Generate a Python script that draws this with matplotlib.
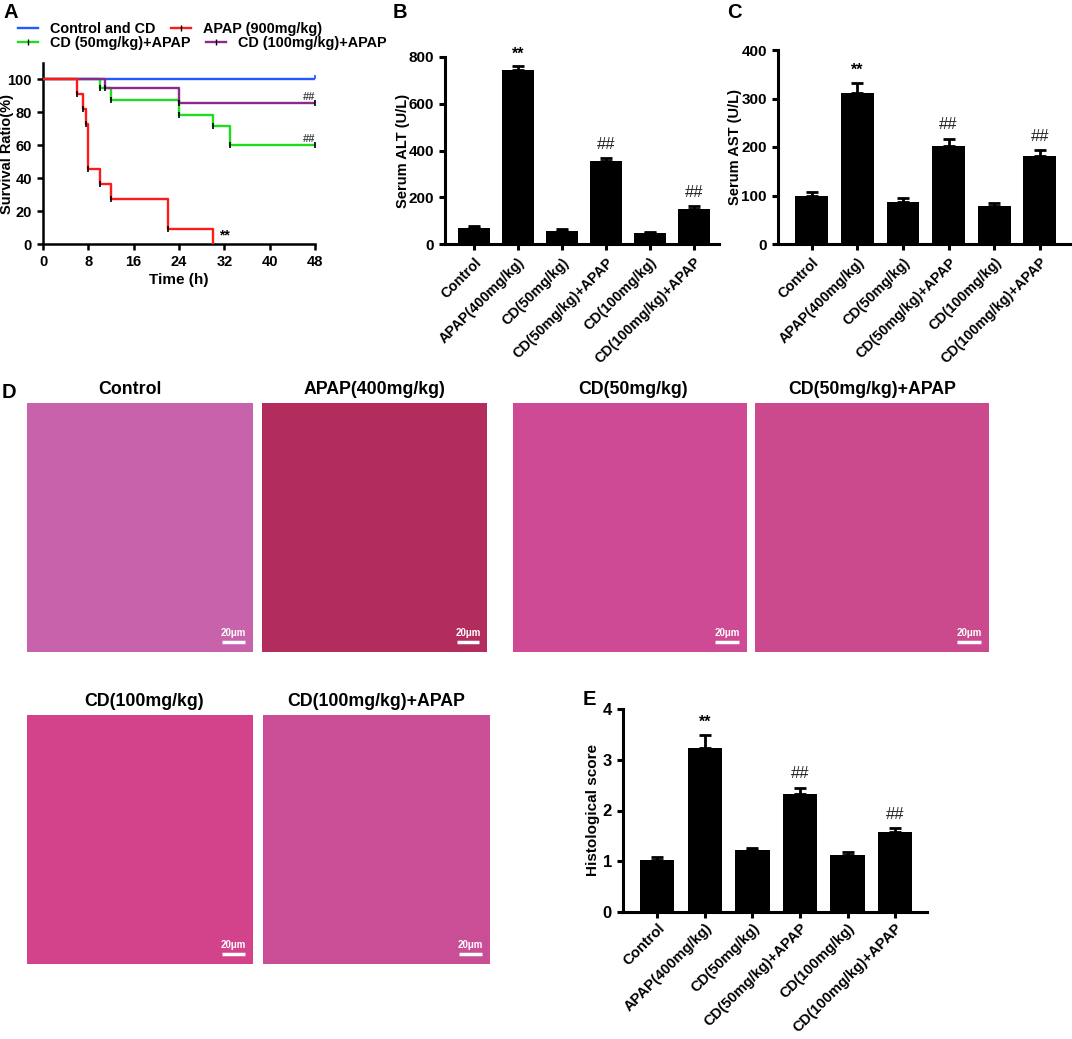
import matplotlib
matplotlib.use('Agg')
import matplotlib.pyplot as plt
from matplotlib.lines import Line2D

plt.rcParams['font.family'] = ['Liberation Sans', 'DejaVu Sans']
plt.rcParams['font.weight'] = 'bold'

W, H = 1072, 1039

# --- survival data (A) ---
t_ctrl = [0, 48]
s_ctrl = [100, 100]
t_apap = [0, 6, 7, 7.5, 8, 10, 12, 22, 30]
s_apap = [100, 90.9, 81.8, 72.7, 45.5, 36.4, 27.3, 9.1, 0]
t_cd50 = [0, 10, 12, 24, 30, 33, 48]
s_cd50 = [100, 94.7, 87.5, 78.5, 71.8, 60, 60]
t_cd100 = [0, 11, 24, 48]
s_cd100 = [100, 95, 85.5, 85.5]

# --- bar data (B, C, E) ---
groups = ['Control', 'APAP(400mg/kg)', 'CD(50mg/kg)', 'CD(50mg/kg)+APAP',
          'CD(100mg/kg)', 'CD(100mg/kg)+APAP']
alt_mean = [70, 743, 56, 354, 47, 150]
alt_err = [8, 17, 7, 13, 6, 12]
ast_mean = [98, 312, 86, 203, 78, 182]
ast_err = [9, 19, 8, 14, 7, 12]
hist_mean = [1.02, 3.24, 1.22, 2.33, 1.12, 1.57]
hist_err = [0.07, 0.24, 0.05, 0.11, 0.07, 0.08]
marks = ['', '**', '', '##', '', '##']

# --- histology panels (D) ---
he_titles = ['Control', 'APAP(400mg/kg)', 'CD(50mg/kg)', 'CD(50mg/kg)+APAP',
             'CD(100mg/kg)', 'CD(100mg/kg)+APAP']
he_colors = ['#c862aa', '#b22c5e', '#cf4a94', '#cb4a8e', '#d3438c', '#c94e95']


def rect(x0, y0, x1, y1):
    return [x0 / W, 1 - y1 / H, (x1 - x0) / W, (y1 - y0) / H]


def style_axes(ax, fs_y, fs_x, lw, xpad=3.5):
    for s in ['top', 'right']:
        ax.spines[s].set_visible(False)
    for s in ['left', 'bottom']:
        ax.spines[s].set_linewidth(lw)
    ax.tick_params(direction='out', length=4.5, width=lw)
    ax.tick_params(axis='y', labelsize=fs_y)
    ax.tick_params(axis='x', labelsize=fs_x, pad=xpad)
    for lab in ax.get_yticklabels() + ax.get_xticklabels():
        lab.set_fontweight('bold')


fig = plt.figure(figsize=(W / 100, H / 100), dpi=100)

# ---------------- A: survival ----------------
axA = fig.add_axes(rect(43, 63, 315, 244))
cols = {'ctrl': '#1f5bff', 'apap': '#ff1a1a', 'cd50': '#1fdc1f', 'cd100': '#8c2a8c'}
axA.step(t_ctrl, s_ctrl, where='post', color=cols['ctrl'], lw=1.7, zorder=2)
axA.step(t_cd50, s_cd50, where='post', color=cols['cd50'], lw=1.7, zorder=3)
axA.step(t_cd100, s_cd100, where='post', color=cols['cd100'], lw=1.7, zorder=4)
axA.step(t_apap, s_apap, where='post', color=cols['apap'], lw=1.7, zorder=5)
for t, s in [(t_apap, s_apap), (t_cd50, s_cd50), (t_cd100, s_cd100)]:
    tt = [a for a, b in zip(t[1:], s[1:]) if b > 0]
    ss = [b for b in s[1:] if b > 0]
    axA.plot(tt, ss, '|', color='k', ms=4, mew=1.2, zorder=6, clip_on=False)
axA.plot([48], [101.5], '|', color=cols['ctrl'], ms=3.5, mew=1.2, clip_on=False)
axA.set_xlim(0, 48)
axA.set_ylim(0, 110)
axA.set_xticks(range(0, 49, 8))
axA.set_yticks(range(0, 101, 20))
style_axes(axA, 10.5, 10.5, 1.8)
axA.set_xlabel('Time (h)', fontsize=11, fontweight='bold', labelpad=3)
axA.set_ylabel('Survival Ratio(%)', fontsize=10.5, fontweight='bold')
axA.yaxis.set_label_coords(-0.105, 0.5)
axA.text(48, s_cd100[-1] + 0.8, '##', ha='right', va='bottom', fontsize=8,
         fontweight='bold', color='#444444', clip_on=False)
axA.text(48, s_cd50[-1] + 0.8, '##', ha='right', va='bottom', fontsize=8,
         fontweight='bold', color='#444444', clip_on=False)
axA.text(31, 1, '**', ha='left', va='bottom', fontsize=10, fontweight='bold')

h_ctrl = Line2D([], [], color=cols['ctrl'], lw=1.7)
h_apap = Line2D([], [], color=cols['apap'], lw=1.7, marker='|', mec='k', ms=4)
h_cd50 = Line2D([], [], color=cols['cd50'], lw=1.7, marker='|', mec='k', ms=4)
h_cd100 = Line2D([], [], color=cols['cd100'], lw=1.7, marker='|', mec='k', ms=4)
leg_kw = dict(loc='center left', ncol=2, frameon=False, borderpad=0, borderaxespad=0,
              handlelength=1.4, handletextpad=0.8, columnspacing=1.1, numpoints=1,
              prop={'size': 10.4, 'weight': 'bold'})
fig.legend([h_ctrl, h_apap], ['Control and CD', 'APAP (900mg/kg)'],
           bbox_to_anchor=(18 / W, 1 - 29 / H), **leg_kw)
fig.legend([h_cd50, h_cd100], ['CD (50mg/kg)+APAP', 'CD (100mg/kg)+APAP'],
           bbox_to_anchor=(18 / W, 1 - 43 / H), **leg_kw)


# ---------------- bar panels ----------------
def bar_panel(r, mean, err, ylim, yticks, ylabel, xlim, fs_tick, fs_cat, fs_lab, lab_x,
              xpad=3.5):
    ax = fig.add_axes(r)
    x = list(range(len(groups)))
    ax.bar(x, mean, width=0.72, color='black', zorder=2)
    ax.errorbar(x, mean, yerr=[[0] * len(err), err], fmt='none', ecolor='black',
                elinewidth=2, capsize=4.5, capthick=2, zorder=1)
    ax.set_xlim(*xlim)
    ax.set_ylim(0, ylim)
    ax.set_yticks(yticks)
    ax.set_xticks(x)
    ax.set_xticklabels(groups, rotation=45, ha='right', rotation_mode='anchor')
    style_axes(ax, fs_tick, fs_cat, 2.2, xpad)
    ax.set_ylabel(ylabel, fontsize=fs_lab, fontweight='bold')
    ax.yaxis.set_label_coords(lab_x, 0.5)
    for xi, m, e, mk in zip(x, mean, err, marks):
        if mk == '**':
            ax.text(xi, m + e + ylim * 0.027, mk, ha='center', va='bottom',
                    fontsize=11.5, fontweight='bold', clip_on=False)
        elif mk:
            ax.text(xi, m + e + ylim * 0.033, mk, ha='center', va='bottom',
                    fontsize=12, fontweight='normal', color='#222222', clip_on=False)
    return ax


bar_panel(rect(445, 57, 719, 244), alt_mean, alt_err, 800, range(0, 801, 200),
          'Serum ALT (U/L)', (-0.66, 5.57), 11, 10.3, 10.5, -0.128)
bar_panel(rect(778, 50, 1070, 244), ast_mean, ast_err, 400, range(0, 401, 100),
          'Serum AST (U/L)', (-0.74, 5.66), 11, 10.3, 10.5, -0.123)
bar_panel(rect(623, 709, 927, 912), hist_mean, hist_err, 4, range(0, 5),
          'Histological score', (-0.72, 5.67), 12, 10.6, 11, -0.076, xpad=2)

# ---------------- D: histology ----------------
he_boxes = [(27, 403, 253, 652), (262, 403, 487, 652), (513, 403, 747, 652),
            (755, 403, 989, 652), (27, 715, 253, 964), (263, 715, 490, 964)]
he_title_dx = [-10, 0, 3, 0, 4, 0]
for (x0, y0, x1, y1), title, c, dx in zip(he_boxes, he_titles, he_colors, he_title_dx):
    ax = fig.add_axes(rect(x0, y0, x1, y1))
    ax.set_facecolor(c)
    ax.set_xticks([])
    ax.set_yticks([])
    for s in ax.spines.values():
        s.set_visible(False)
    ax.text(0.5 + dx / (x1 - x0), 1 + 14 / (y1 - y0), title, fontsize=12.8,
            fontweight='bold', ha='center', va='center', transform=ax.transAxes)
    ax.plot([0.865, 0.965], [0.04, 0.04], color='white', lw=2.5,
            transform=ax.transAxes, solid_capstyle='butt')
    ax.text(0.915, 0.055, '20μm', color='white', fontsize=7, fontweight='bold',
            ha='center', va='bottom', transform=ax.transAxes)

# panel letters
for lx, ly, L in [(3, 3, 'A'), (393, 3, 'B'), (727, 3, 'C'), (2, 383, 'D'), (583, 690, 'E')]:
    fig.text(lx / W, 1 - ly / H, L, fontsize=14.5, fontweight='bold', ha='left', va='top')

fig.savefig('out.png', dpi=100)
